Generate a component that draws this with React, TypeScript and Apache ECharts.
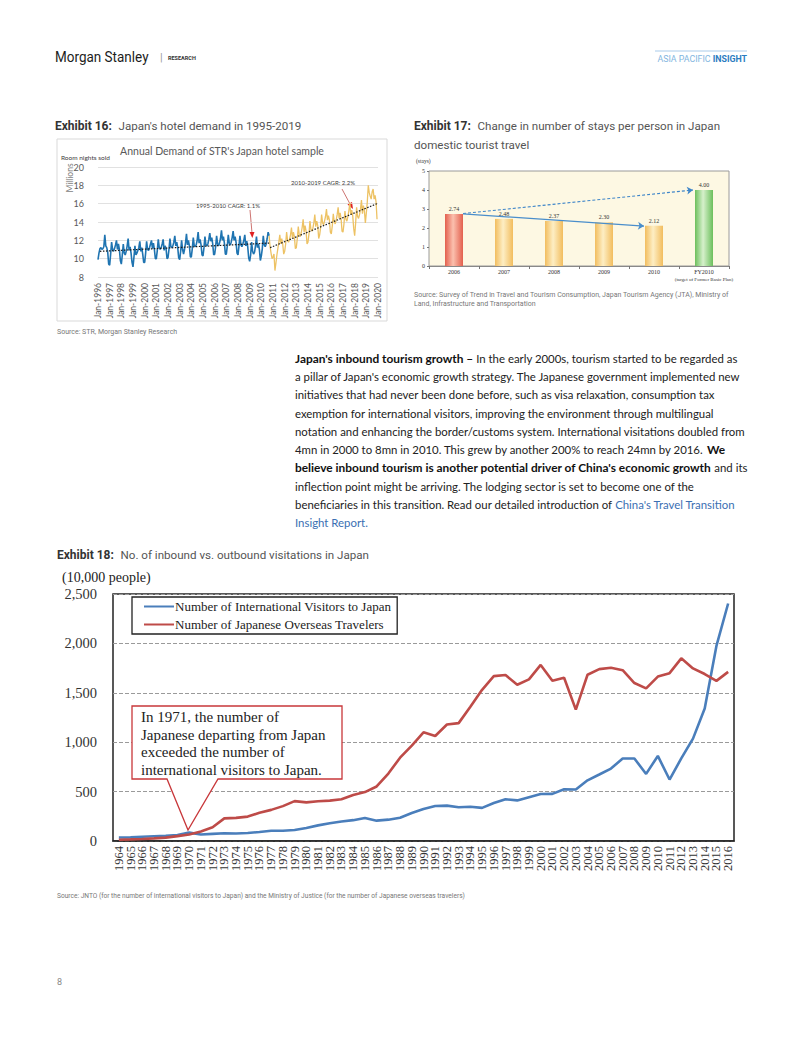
import React, { useEffect, useRef } from "react";
import * as echarts from "echarts";

// ---------- Exhibit 16 data (monthly room nights sold, millions) ----------
const monthNames = ["Jan","Feb","Mar","Apr","May","Jun","Jul","Aug","Sep","Oct","Nov","Dec"];
const demandYears = [1996,1997,1998,1999,2000,2001,2002,2003,2004,2005,2006,2007,2008,2009,2010,2011,2012,2013,2014,2015,2016,2017,2018,2019];
const demand1996_2003 = [
  [9.9,10.6,11.1,11.2,11.0,11.1,11.3,12.6,11.4,11.2,10.7,9.4],
  [9.3,10.5,11.8,11.0,10.8,11.1,11.5,12.0,11.0,11.6,11.0,9.8],
  [9.4,10.4,11.6,10.6,10.4,10.8,11.4,12.2,10.9,11.3,10.6,9.6],
  [9.1,10.2,11.4,10.4,10.6,10.9,11.2,11.9,10.8,11.2,10.5,9.6],
  [9.6,10.6,11.9,11.0,10.9,11.2,11.6,12.0,11.1,11.7,11.0,10.0],
  [10.0,10.9,12.1,11.2,11.0,11.2,11.6,12.1,10.9,11.4,11.1,10.0],
  [10.1,11.0,12.2,11.3,11.2,11.4,11.8,12.5,11.4,11.8,11.2,10.1],
  [9.9,10.8,12.0,11.0,10.5,11.0,11.7,12.7,11.5,12.0,11.4,10.2],
];
const demand2004_2011 = [
  [10.2,11.1,12.3,11.4,11.3,11.5,12.0,12.9,11.7,12.1,11.5,10.4],
  [10.3,11.2,12.4,11.5,11.4,11.6,12.1,12.8,11.9,12.3,11.6,10.4],
  [10.5,11.3,12.5,11.6,11.4,11.7,12.2,13.1,12.0,12.4,11.7,10.5],
  [10.5,11.4,12.6,11.7,11.5,11.8,12.3,13.0,12.0,12.4,11.8,10.6],
  [10.4,11.4,12.5,11.5,11.3,11.6,12.0,12.6,11.4,11.9,11.3,10.1],
  [9.7,10.4,11.8,10.8,10.5,10.7,11.4,12.4,11.2,11.6,11.0,9.8],
  [10.3,11.1,12.5,11.5,11.3,11.6,12.2,12.9,12.5,11.3,10.6,10.0],
  [10.2,10.5,8.7,9.5,10.4,11.1,11.8,12.6,11.6,12.2,11.6,10.5],
];
const demand2012_2019 = [
  [10.8,11.6,12.9,12.0,11.8,12.1,12.6,13.4,12.2,12.9,12.4,11.1],
  [11.2,12.2,13.5,12.6,12.4,12.8,13.4,14.3,12.9,13.6,13.0,11.6],
  [11.8,12.7,14.1,13.2,13.0,13.3,13.9,14.8,13.5,14.1,13.6,12.2],
  [12.6,13.4,14.8,13.9,13.7,14.1,14.6,15.4,14.2,14.7,14.2,12.9],
  [12.7,13.6,14.9,14.0,13.8,14.2,14.8,15.6,14.4,15.0,14.4,13.0],
  [12.9,13.8,15.2,14.3,14.1,14.6,15.2,16.1,14.8,15.3,14.7,13.3],
  [12.5,13.9,15.6,14.6,14.4,14.8,15.4,16.4,14.9,15.8,15.2,13.9],
  [15.0,16.2,18.0,17.2,16.8,16.5,17.3,17.6,16.5,16.9,16.2,14.3],
];
const blueEndIndex = 176; // Sep-2010: STR sample split
const trend1995_2010 = [[2, 10.8], [176, 11.7]];
const trend2010_2019 = [[177, 11.2], [287, 16.0]];
const demandTicks = [8, 10, 12, 14, 16, 18, 20];

// ---------- Exhibit 17 data ----------
const stayCategories = ["2006", "2007", "2008", "2009", "2010", "FY2010"];
const stayValues = [2.74, 2.48, 2.37, 2.30, 2.12, 4.00];
const stayArrowDown = [[0.18, 2.74], [3.8, 2.1]];
const stayArrowUp = [[0.18, 2.76], [4.78, 4.0]];

// ---------- Exhibit 18 data (10,000 people) ----------
const visitYears = ["1964","1965","1966","1967","1968","1969","1970","1971","1972","1973","1974","1975","1976","1977","1978","1979","1980","1981","1982","1983","1984","1985","1986","1987","1988","1989","1990","1991","1992","1993","1994","1995","1996","1997","1998","1999","2000","2001","2002","2003","2004","2005","2006","2007","2008","2009","2010","2011","2012","2013","2014","2015","2016"];
const visitorsToJapan = [35,37,43,48,52,61,85,66,72,78,76,81,91,103,104,111,132,158,179,197,211,233,206,216,236,284,324,354,358,341,347,335,384,422,411,444,476,477,524,521,614,673,733,835,835,679,861,622,836,1036,1341,1974,2404];
const japaneseOverseas = [13,16,21,27,34,49,66,96,139,229,234,247,285,315,353,404,391,403,409,423,466,495,552,683,843,966,1100,1063,1179,1193,1358,1530,1669,1680,1581,1636,1782,1622,1652,1330,1683,1740,1753,1729,1599,1545,1664,1699,1849,1747,1690,1621,1712];

const paragraphLines = [
  "{b|Japan's inbound tourism growth – }In the early 2000s, tourism started to be regarded as",
  "a pillar of Japan's economic growth strategy. The Japanese government implemented new",
  "initiatives that had never been done before, such as visa relaxation, consumption tax",
  "exemption for international visitors, improving the environment through multilingual",
  "notation and enhancing the border/customs system. International visitations doubled from",
  "4mn in 2000 to 8mn in 2010. This grew by another 200% to reach 24mn by 2016. {b|We}",
  "{b|believe inbound tourism is another potential driver of China's economic growth} and its",
  "inflection point might be arriving. The lodging sector is set to become one of the",
  "beneficiaries in this transition. Read our detailed introduction of {l|China's Travel Transition}",
  "{l|Insight Report.}",
];

const SANS = "Roboto, 'Noto Sans', sans-serif";
const SERIF = "'Liberation Serif', 'DejaVu Serif', serif";
const BODY = "Lato, 'Open Sans', sans-serif";

function txt(x: number, y: number, text: string, style: any, extra: any = {}) {
  return { type: "text", x, y, silent: true, ...extra, style: { text, verticalAlign: "middle", ...style } };
}

export default function App() {
  const ref = useRef<HTMLDivElement>(null);
  useEffect(() => {
    if (!ref.current) return;
    const chart = echarts.init(ref.current, null, { renderer: "svg" });

    const demandCats: string[] = [];
    demandYears.forEach((y) => monthNames.forEach((m) => demandCats.push(`${m}-${y}`)));
    demandCats.push("Jan-2020");
    const demandFlat = [...demand1996_2003, ...demand2004_2011, ...demand2012_2019].flat();
    const blueSeries = demandFlat.map((v, i) => (i <= blueEndIndex ? v : null));
    const goldSeries = demandFlat.map((v, i) => (i >= blueEndIndex ? v : null));

    const grad = (edge: string, mid: string) =>
      new echarts.graphic.LinearGradient(0, 0, 1, 0, [
        { offset: 0, color: edge },
        { offset: 0.45, color: mid },
        { offset: 1, color: edge },
      ]);
    const barColors = [
      grad("#e3604e", "#fbc0ae"),
      grad("#f2bd5e", "#fdeec4"),
      grad("#f2bd5e", "#fdeec4"),
      grad("#f2bd5e", "#fdeec4"),
      grad("#f2bd5e", "#fdeec4"),
      grad("#6cbf5c", "#d6f0cb"),
    ];

    const titleRich = (size: number) => ({
      b: { fontFamily: SANS, fontSize: 12, fontWeight: "bold", fill: "#333" },
      n: { fontFamily: SANS, fontSize: size, fill: "#555" },
    });

    const graphic: any[] = [
      // header
      txt(55, 57, "Morgan Stanley", { font: `15px ${SANS}`, fill: "#1d1d1d" }, { scaleX: 0.9 }),
      txt(160, 57, "|", { font: `11px ${SANS}`, fill: "#9a9a9a" }),
      txt(168, 58, "RESEARCH", { font: `bold 5.5px ${SANS}`, fill: "#333" }),
      { type: "line", silent: true, shape: { x1: 655, y1: 51, x2: 747, y2: 51 }, style: { stroke: "#a9cbea", lineWidth: 1 } },
      txt(747, 59, "{a|ASIA PACIFIC }{b|INSIGHT}", {
        align: "right",
        font: `8.5px ${SANS}`,
        rich: { a: { fill: "#82b6e0", fontSize: 8.8, fontFamily: SANS }, b: { fill: "#2b7cc1", fontSize: 8.8, fontWeight: "bold", fontFamily: SANS } },
      }),
      // Exhibit 16
      txt(55, 126, "{b|Exhibit 16:}  {n|Japan's hotel demand in 1995-2019}", { rich: titleRich(11.6) }),
      { type: "rect", silent: true, shape: { x: 57, y: 139, width: 330, height: 182 }, style: { fill: "none", stroke: "#d9d9d9", lineWidth: 1 } },
      txt(222, 151, "Annual Demand of STR's Japan hotel sample", { align: "center", font: `10.5px ${BODY}`, fill: "#595959" }),
      txt(61, 157, "Room nights sold", { font: `6.5px ${BODY}`, fill: "#404040" }),
      txt(70, 178, "Millions", { align: "center", font: `8.5px ${BODY}`, fill: "#7f7f7f" }, { rotation: Math.PI / 2 }),
      txt(228, 205, "1995-2010 CAGR: 1.1%", { align: "center", font: `6px ${BODY}`, fill: "#404040" }),
      { type: "line", silent: true, shape: { x1: 250, y1: 210, x2: 252, y2: 233 }, style: { stroke: "#c0504d", lineWidth: 0.8 } },
      { type: "polygon", silent: true, shape: { points: [[249.5, 232], [254.5, 232], [252.3, 238]] }, style: { fill: "#e02020" } },
      txt(323, 182, "2010-2019 CAGR: 2.2%", { align: "center", font: `6px ${BODY}`, fill: "#404040" }),
      { type: "line", silent: true, shape: { x1: 342, y1: 189, x2: 350, y2: 204 }, style: { stroke: "#c0504d", lineWidth: 0.8 } },
      { type: "polygon", silent: true, shape: { points: [[347.5, 204.5], [352, 202], [353, 209]] }, style: { fill: "#e02020" } },
      txt(57, 332, "Source: STR, Morgan Stanley Research", { font: `7px ${SANS}`, fill: "#777" }),
      // Exhibit 17
      txt(414, 126, "{b|Exhibit 17:}  {n|Change in number of stays per person in Japan}", { rich: titleRich(11.6) }),
      txt(414, 145, "domestic tourist travel", { font: `11.6px ${SANS}`, fill: "#555" }),
      txt(416, 161, "(stays)", { font: `5.5px ${SERIF}`, fill: "#333" }),
      txt(414, 295, "Source: Survey of Trend in Travel and Tourism Consumption, Japan Tourism Agency (JTA), Ministry of", { font: `7px ${SANS}`, fill: "#777" }),
      txt(414, 304, "Land, Infrastructure and Transportation", { font: `7px ${SANS}`, fill: "#777" }),
      // Paragraph
      ...paragraphLines.map((line, i) =>
        txt(295, 358.3 + i * 18.27, line, {
          font: `11.4px ${BODY}`,
          fill: "#222",
          rich: {
            b: { fontFamily: BODY, fontSize: 11.9, fontWeight: "bold", fill: "#111" },
            l: { fontFamily: BODY, fontSize: 11.4, fill: "#3b6fb3" },
          },
        })
      ),
      // Exhibit 18
      txt(57, 555, "{b|Exhibit 18:}  {n|No. of inbound vs. outbound visitations in Japan}", { rich: titleRich(11.6) }),
      txt(62, 577, "(10,000 people)", { font: `14px ${SERIF}`, fill: "#222" }),
      {
        type: "polygon",
        silent: true,
        z: 100,
        shape: { points: [[132, 706], [342, 706], [342, 779], [218, 779], [188, 830], [167, 779], [132, 779]] },
        style: { fill: "#fff", stroke: "#c8373a", lineWidth: 1.3 },
      },
      {
        type: "text",
        silent: true,
        z: 101,
        x: 141,
        y: 708,
        style: {
          text: "In 1971, the number of\nJapanese departing from Japan\nexceeded the number of\ninternational visitors to Japan.",
          font: `15px ${SERIF}`,
          lineHeight: 17.7,
          fill: "#222",
        },
      },
      txt(57, 896, "Source: JNTO (for the number of international visitors to Japan) and the Ministry of Justice (for the number of Japanese overseas travelers)", { font: `6.6px ${SANS}`, fill: "#777" }),
      txt(57, 982, "8", { font: `9px ${SANS}`, fill: "#888" }),
    ];

    const option: any = {
      animation: false,
      backgroundColor: "#fff",
      grid: [
        { left: 98, right: 424, top: 167, bottom: 760 },
        { left: 429, right: 73, top: 171, bottom: 771, show: true, backgroundColor: "#fdf8e3", borderColor: "#9a9a9a", borderWidth: 1 },
        { left: 113, right: 68, top: 594, bottom: 196, show: true, backgroundColor: "#fff", borderColor: "#222", borderWidth: 1.5 },
      ],
      xAxis: [
        {
          gridIndex: 0,
          type: "category",
          data: demandCats,
          boundaryGap: false,
          axisLine: { show: false },
          axisTick: { show: false },
          axisLabel: { rotate: 90, interval: 11, fontSize: 8.5, fontFamily: BODY, color: "#595959", margin: 6 },
        },
        {
          gridIndex: 1,
          type: "category",
          data: stayCategories,
          axisLine: { show: true, onZero: false, lineStyle: { color: "#777", width: 0.8 } },
          axisTick: { show: true, length: 3, lineStyle: { color: "#777" } },
          axisLabel: {
            interval: 0,
            fontSize: 6,
            fontFamily: SERIF,
            color: "#333",
            margin: 3,
            formatter: (v: string) => (v === "FY2010" ? "{a|FY2010}\n{c|(target of Former Basic Plan)}" : v),
            rich: { a: { fontSize: 6, fontFamily: SERIF, fontWeight: "normal", color: "#333" }, c: { fontSize: 5, fontFamily: SERIF, color: "#333", padding: [2, 0, 0, 0] } },
          },
        },
        {
          gridIndex: 2,
          type: "category",
          data: visitYears,
          boundaryGap: true,
          axisLine: { show: true, lineStyle: { color: "#222", width: 1.5 } },
          axisTick: { show: false },
          axisLabel: { rotate: 90, interval: 0, fontSize: 12.5, fontFamily: SERIF, color: "#333", margin: 5 },
        },
        { gridIndex: 1, type: "value", min: -0.5, max: 5.5, show: false },
      ],
      yAxis: [
        {
          gridIndex: 0,
          type: "value",
          min: 8,
          max: 20,
          interval: 2,
          axisLine: { show: false },
          axisTick: { show: false },
          axisLabel: { fontSize: 9, fontFamily: BODY, color: "#595959", margin: 14, formatter: (v: number) => (demandTicks.includes(v) ? String(v) : "") },
          splitLine: { lineStyle: { color: "#d9d9d9", width: 0.8 } },
        },
        {
          gridIndex: 1,
          type: "value",
          min: 0,
          max: 5,
          interval: 1,
          axisLine: { show: false, onZero: false },
          axisTick: { show: true, length: 2, lineStyle: { color: "#777" } },
          axisLabel: { fontSize: 6, fontFamily: SERIF, color: "#333", margin: 4 },
          splitLine: { show: false },
        },
        {
          gridIndex: 2,
          type: "value",
          min: 0,
          max: 2500,
          interval: 500,
          axisLine: { show: false },
          axisTick: { show: false },
          axisLabel: { fontSize: 14.5, fontFamily: SERIF, color: "#333", margin: 16, formatter: (v: number) => v.toLocaleString("en-US") },
          splitLine: { lineStyle: { color: "#9a9a9a", type: [4, 2], width: 1 } },
        },
      ],
      legend: {
        data: [
          { name: "Number of International Visitors to Japan", icon: "rect" },
          { name: "Number of Japanese Overseas Travelers", icon: "rect" },
        ],
        orient: "vertical",
        left: 132,
        top: 597,
        width: 263,
        itemWidth: 30,
        itemHeight: 2,
        itemGap: 5,
        padding: [3, 6, 3, 12],
        borderColor: "#222",
        borderWidth: 1.3,
        backgroundColor: "#fff",
        textStyle: { fontFamily: SERIF, fontSize: 13, color: "#222", padding: [0, 0, 0, -4] },
        selectedMode: false,
      },
      series: [
        {
          type: "line",
          xAxisIndex: 0,
          yAxisIndex: 0,
          data: blueSeries,
          showSymbol: false,
          symbol: "none",
          lineStyle: { color: "#1f74b1", width: 1.6 },
          connectNulls: false,
        },
        {
          type: "line",
          xAxisIndex: 0,
          yAxisIndex: 0,
          data: goldSeries,
          showSymbol: false,
          symbol: "none",
          lineStyle: { color: "#edc264", width: 1.3 },
          connectNulls: false,
        },
        {
          type: "line",
          xAxisIndex: 0,
          yAxisIndex: 0,
          data: trend1995_2010,
          symbol: "none",
          lineStyle: { color: "#1a1a1a", width: 1.2, type: [1.5, 1.5] },
          z: 5,
        },
        {
          type: "line",
          xAxisIndex: 0,
          yAxisIndex: 0,
          data: trend2010_2019,
          symbol: "none",
          lineStyle: { color: "#1a1a1a", width: 1.2, type: [1.5, 1.5] },
          z: 5,
        },
        {
          type: "bar",
          xAxisIndex: 1,
          yAxisIndex: 1,
          barWidth: 18,
          data: stayValues.map((v, i) => ({ value: v, itemStyle: { color: barColors[i] } })),
          label: { show: true, position: "top", distance: 2, fontSize: 6, fontFamily: SERIF, color: "#333", formatter: (p: any) => p.value.toFixed(2) },
        },
        {
          type: "scatter",
          xAxisIndex: 3,
          yAxisIndex: 1,
          data: [stayArrowDown[0]],
          symbolSize: 0,
          silent: true,
          z: 10,
          markLine: {
            silent: true,
            symbol: ["none", "arrow"],
            symbolSize: 6,
            label: { show: false },
            emphasis: { disabled: true },
            data: [
              [
                { coord: stayArrowUp[0], lineStyle: { color: "#3f86c9", width: 1.1, type: [3, 2] } },
                { coord: stayArrowUp[1] },
              ],
              [
                { coord: stayArrowDown[0], lineStyle: { color: "#4a8ecb", width: 1.2, type: "solid" } },
                { coord: stayArrowDown[1] },
              ],
            ],
          },
        },
        {
          name: "Number of International Visitors to Japan",
          type: "line",
          xAxisIndex: 2,
          yAxisIndex: 2,
          data: visitorsToJapan,
          symbol: "none",
          lineStyle: { color: "#4a7ebb", width: 2.6 },
          itemStyle: { color: "#4a7ebb" },
        },
        {
          name: "Number of Japanese Overseas Travelers",
          type: "line",
          xAxisIndex: 2,
          yAxisIndex: 2,
          data: japaneseOverseas,
          symbol: "none",
          lineStyle: { color: "#be4b48", width: 2.6 },
          itemStyle: { color: "#be4b48" },
        },
      ],
      graphic,
    };
    chart.setOption(option);
    return () => chart.dispose();
  }, []);
  return <div ref={ref} style={{ position: "absolute", left: 0, top: 0, width: 802, height: 1037, background: "#fff" }} />;
}
